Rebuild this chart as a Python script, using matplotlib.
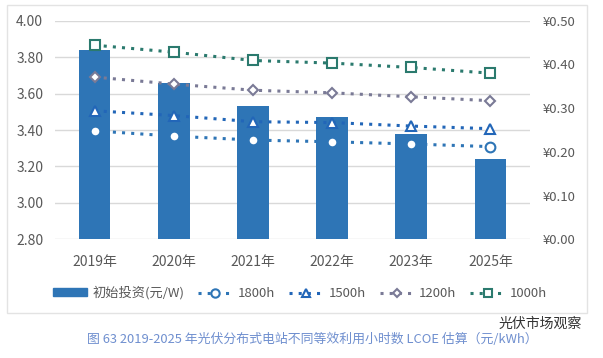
import matplotlib.pyplot as plt
from matplotlib.patches import Rectangle
from matplotlib.lines import Line2D
import numpy as np

plt.rcParams['font.family'] = ['Noto Sans CJK SC', 'DejaVu Sans']

years = ['2019年', '2020年', '2021年', '2022年', '2023年', '2025年']
invest = [3.84, 3.66, 3.53, 3.47, 3.38, 3.24]
lcoe_1800 = [0.248, 0.236, 0.227, 0.223, 0.218, 0.212]
lcoe_1500 = [0.294, 0.283, 0.269, 0.267, 0.259, 0.253]
lcoe_1200 = [0.371, 0.355, 0.341, 0.335, 0.326, 0.317]
lcoe_1000 = [0.444, 0.428, 0.409, 0.403, 0.393, 0.380]

bar_color = '#2E75B6'
tick_color = '#595959'
grid_color = '#D9D9D9'

fig = plt.figure(figsize=(6.03, 3.58), dpi=100)
fig.patch.set_facecolor('white')

# light frame round the chart
fig.patches.append(Rectangle((7 / 603, 1 - 313 / 358), 580 / 603, 308 / 358,
                             transform=fig.transFigure, fill=False,
                             edgecolor='#E3E3E3', linewidth=1))

ax = fig.add_axes([55 / 603, 1 - 239.3 / 358, 475 / 603, 218.6 / 358])
x = np.arange(len(years))
ax.bar(x, invest, width=0.4, color=bar_color, zorder=2)
ax.set_ylim(2.8, 4.0)
ax.set_yticks(np.arange(2.8, 4.01, 0.2))
ax.set_yticklabels([f'{v:.2f}' for v in np.arange(2.8, 4.01, 0.2)])
ax.set_xlim(-0.5, len(years) - 0.5)
ax.set_xticks(x)
ax.set_xticklabels(years)
ax.yaxis.grid(True, color=grid_color, linewidth=1, zorder=0)
ax.set_axisbelow(True)
for s in ax.spines.values():
    s.set_visible(False)
ax.tick_params(length=0, labelsize=10, colors=tick_color)
ax.tick_params(axis='y', pad=8.5)
ax.tick_params(axis='x', pad=11)

ax2 = ax.twinx()
ax2.set_ylim(0, 0.5)
ax2.set_yticks(np.arange(0, 0.51, 0.1))
ax2.set_yticklabels([f'¥{v:.2f}' for v in np.arange(0, 0.51, 0.1)])
for s in ax2.spines.values():
    s.set_visible(False)
ax2.tick_params(length=0, labelsize=9.5, colors=tick_color, pad=9.5)

series = [
    (lcoe_1800, '1800h', '#2E75B6', 'o', 7),
    (lcoe_1500, '1500h', '#2266B8', '^', 7),
    (lcoe_1200, '1200h', '#7A7A96', 'D', 5.5),
    (lcoe_1000, '1000h', '#2B7A6E', 's', 7),
]
handles = [Rectangle((0, 0), 1, 1, color=bar_color, label='初始投资(元/W)')]
for vals, lab, col, mk, ms in series:
    ax2.plot(x, vals, linestyle=(0, (1, 2)), linewidth=2.2, color=col,
             marker=mk, markersize=ms, markerfacecolor='white',
             markeredgecolor=col, markeredgewidth=1.5, zorder=3)
    handles.append(Line2D([0], [0], linestyle=(0, (1, 2)), linewidth=2.2, color=col,
                          marker=mk, markersize=ms - 1, markerfacecolor='white',
                          markeredgecolor=col, markeredgewidth=1.5, label=lab))

fig.legend(handles=handles, loc='center', bbox_to_anchor=(300 / 603, 1 - 293 / 358),
           ncol=5, frameon=False, fontsize=9.5, handlelength=2.6, handleheight=0.5,
           columnspacing=1.05, handletextpad=0.4, labelcolor=tick_color)

fig.text(312 / 603, 1 - 339 / 358, '图 63 2019-2025 年光伏分布式电站不同等效利用小时数 LCOE 估算（元/kWh）',
         ha='center', va='center', fontsize=9.3, color='#6F8FCF')
fig.text(540 / 603, 1 - 324 / 358, '光伏市场观察', ha='center', va='center',
         fontsize=10, color='#333333')

fig.savefig('out.png', dpi=100)
